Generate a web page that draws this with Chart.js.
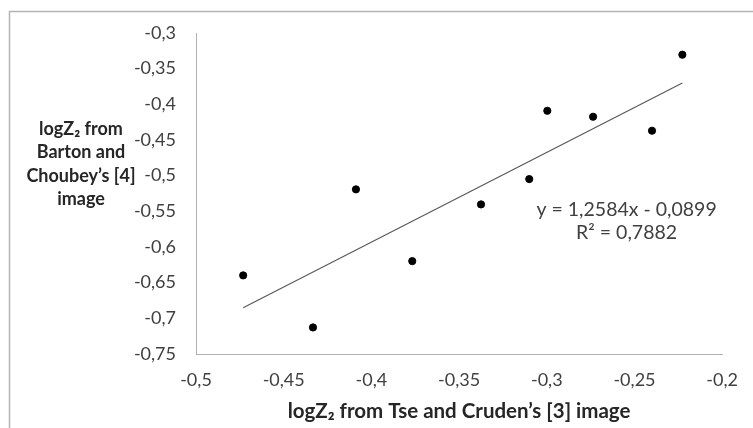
<!DOCTYPE html>
<html>
<head>
<meta charset="utf-8">
<script src="https://cdn.jsdelivr.net/npm/chart.js@4/dist/chart.umd.min.js"></script>
<style>
  html, body { margin: 0; padding: 0; background: #fff; }
  #wrap { position: relative; width: 753px; height: 428px; }
  canvas { display: block; }
</style>
</head>
<body>
<div id="wrap"><canvas id="c" width="753" height="428"></canvas></div>
<script>
// Data
const xValues = [-0.4731, -0.4333, -0.4088, -0.3767, -0.3375, -0.3100, -0.2997, -0.2736, -0.2400, -0.2227];
const yValues = [-0.6398, -0.7128, -0.5192, -0.6198, -0.5403, -0.5048, -0.4090, -0.4174, -0.4370, -0.3304];
const trendSlope = 1.2584;
const trendIntercept = -0.0899;
const equationLabel = 'y = 1,2584x - 0,0899';
const r2Label = 'R² = 0,7882';
const xTitle = 'logZ₂ from Tse and Cruden’s [3] image';
const yTitleLines = ['logZ₂ from', 'Barton and', 'Choubey’s [4]', 'image'];
const xTickRange = [-0.5, -0.2, 0.05];
const yTickRange = [-0.75, -0.3, 0.05];

const points = xValues.map((x, i) => ({ x: x, y: yValues[i] }));
const xMin = Math.min(...xValues), xMax = Math.max(...xValues);
const trend = [xMin, xMax].map(x => ({ x: x, y: trendSlope * x + trendIntercept }));

const FONT = 'Lato, "Open Sans", sans-serif';
const fmt = v => Number(v.toFixed(2)).toString().replace('.', ',');

const decor = {
  id: 'decor',
  beforeDraw(chart) {
    const ctx = chart.ctx;
    ctx.save();
    ctx.strokeStyle = '#b4b4b4';
    ctx.lineWidth = 1.5;
    ctx.beginPath();
    ctx.moveTo(9.5, 428);
    ctx.lineTo(9.5, 11.5);
    ctx.lineTo(753, 11.5);
    ctx.stroke();
    ctx.restore();
  },
  afterDraw(chart) {
    const ctx = chart.ctx;
    ctx.save();
    ctx.fillStyle = '#262626';
    ctx.font = 'bold 18px ' + FONT;
    ctx.textAlign = 'center';
    ctx.textBaseline = 'middle';
    yTitleLines.forEach((t, i) => ctx.fillText(t, 81, 129 + i * 23.5));
    // trendline label, anchored to the data coordinate system
    const xs = chart.scales.x, ys = chart.scales.y;
    const cx = xs.getPixelForValue(-0.2545);
    const cy = ys.getPixelForValue(-0.5475);
    ctx.fillStyle = '#404040';
    ctx.font = '19.5px ' + FONT;
    ctx.fillText(equationLabel, cx, cy);
    ctx.fillText(r2Label, cx, cy + 23);
    ctx.restore();
  }
};

new Chart(document.getElementById('c'), {
  type: 'scatter',
  data: {
    datasets: [
      {
        label: 'points',
        data: points,
        backgroundColor: '#000',
        borderColor: '#000',
        pointRadius: 3.6,
        pointHoverRadius: 3.6
      },
      {
        label: 'trend',
        type: 'line',
        data: trend,
        borderColor: '#595959',
        borderWidth: 1.2,
        pointRadius: 0,
        fill: false
      }
    ]
  },
  options: {
    responsive: false,
    animation: false,
    events: [],
    layout: { padding: { left: 0, right: 27, top: 33, bottom: 4 } },
    plugins: { legend: { display: false }, tooltip: { enabled: false } },
    scales: {
      x: {
        type: 'linear',
        min: xTickRange[0], max: xTickRange[1],
        grid: { display: false, drawTicks: false },
        border: { display: true, color: '#b0b0b0', width: 1 },
        ticks: {
          stepSize: xTickRange[2],
          color: '#404040',
          font: { family: FONT, size: 18 },
          padding: 15,
          maxRotation: 0,
          callback: v => fmt(v)
        },
        title: {
          display: true,
          text: xTitle,
          color: '#262626',
          font: { family: FONT, size: 20.5, weight: 'bold' },
          padding: { top: 4, bottom: 0 }
        },
        afterFit: s => { s.height = 70; }
      },
      y: {
        type: 'linear',
        min: yTickRange[0], max: yTickRange[1],
        grid: { display: false, drawTicks: false },
        border: { display: true, color: '#b0b0b0', width: 1 },
        ticks: {
          stepSize: yTickRange[2],
          color: '#404040',
          font: { family: FONT, size: 18 },
          padding: 20,
          callback: v => fmt(v)
        },
        afterFit: s => { s.width = 196; }
      }
    }
  },
  plugins: [decor]
});
</script>
</body>
</html>
